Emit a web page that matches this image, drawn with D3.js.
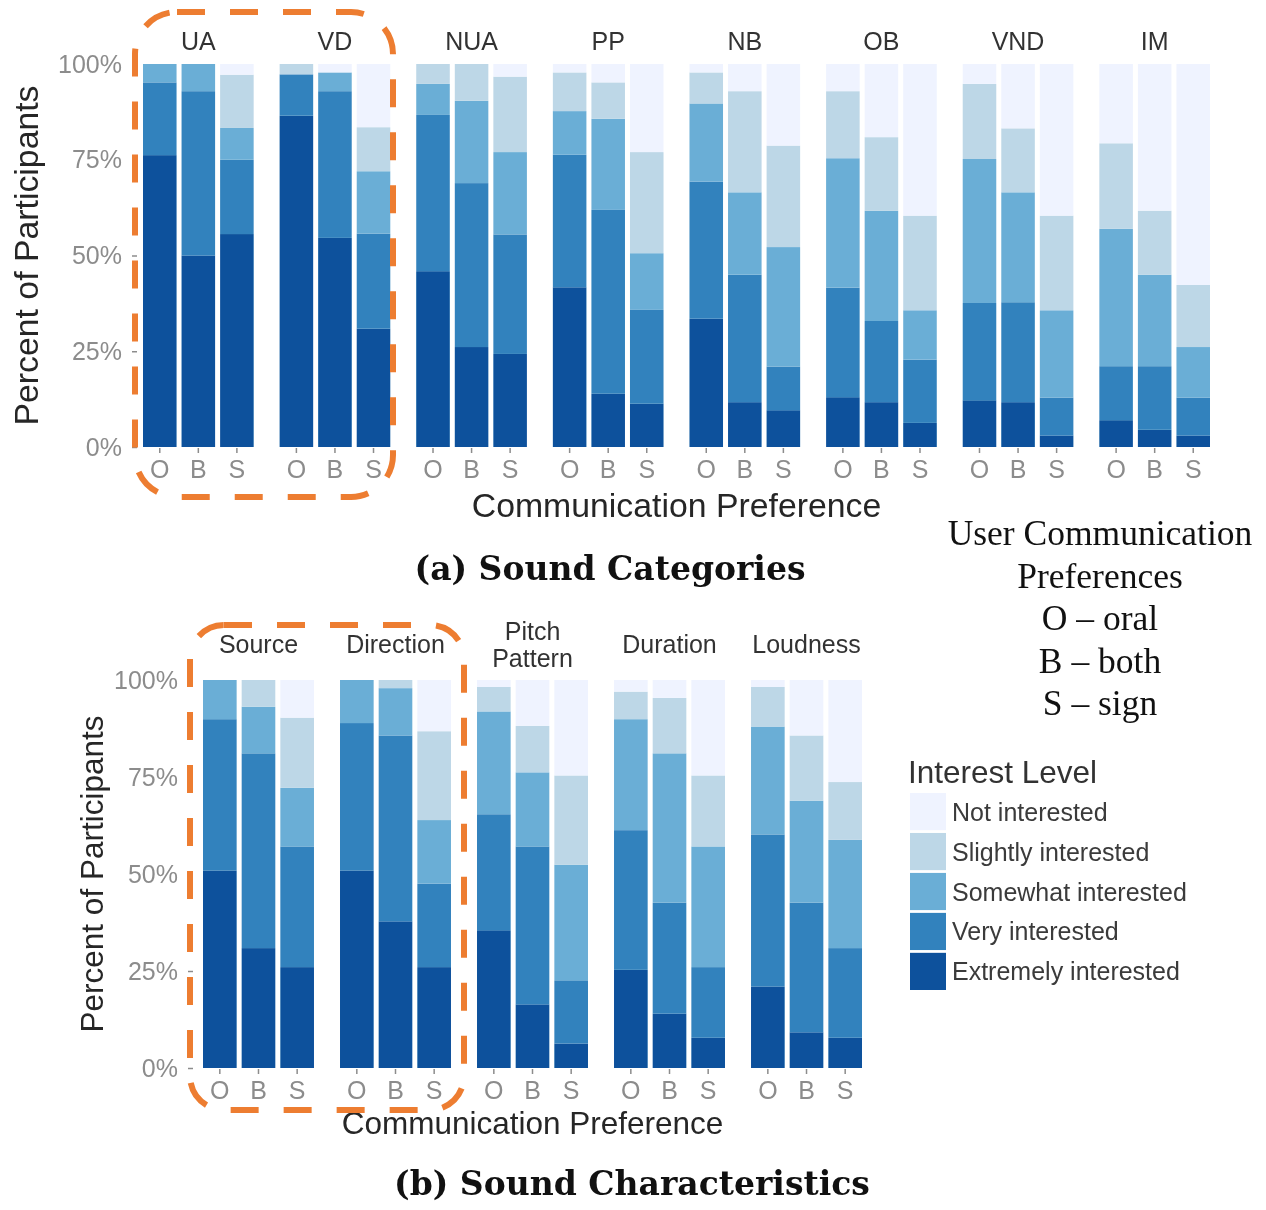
<!DOCTYPE html>
<html>
<head>
<meta charset="utf-8">
<script src="https://cdn.jsdelivr.net/npm/d3@7"></script>
<style>
  html, body { margin: 0; padding: 0; background: #fff; }
  svg { display: block; }
</style>
</head>
<body>
<svg id="fig" width="1266" height="1210"></svg>
<script>
// Interest levels, stacked from the bottom of each bar upwards
const levels = ["Extremely interested", "Very interested", "Somewhat interested", "Slightly interested", "Not interested"];
const levelColors = ["#08519c", "#3182bd", "#6baed6", "#bdd7e7", "#eff3ff"];
const prefs = ["O", "B", "S"];
const yTicks = [0, 25, 50, 75, 100];

// (a) sound categories — one value per panel × preference (O, B, S)
const categoryPanels = ["UA", "VD", "NUA", "PP", "NB", "OB", "VND", "IM"];
const catExtremely = [76.2, 50.0, 55.6, 86.5, 54.6, 30.9, 45.9, 26.1, 24.3, 41.7, 13.9, 11.3, 33.5, 11.7, 9.6, 13.0, 11.7, 6.3, 12.2, 11.7, 3.0, 7.0, 4.5, 3.0];
const catVery      = [19.0, 42.9, 19.4, 10.8, 38.3, 24.8, 40.8, 42.8, 31.2, 34.6, 48.0, 24.5, 35.8, 33.3, 11.4, 28.6, 21.2, 16.5, 25.4, 26.1, 9.9, 14.1, 16.6, 9.9];
const catSomewhat  = [4.8, 7.1, 8.3, 0, 4.9, 16.3, 8.1, 21.5, 21.5, 11.4, 23.8, 14.8, 20.4, 21.5, 31.2, 33.8, 28.8, 12.9, 37.6, 28.7, 22.8, 35.9, 23.9, 13.2];
const catSlightly  = [0, 0, 13.9, 2.7, 0, 11.5, 5.2, 9.6, 19.7, 10.1, 9.5, 26.4, 8.1, 26.4, 26.5, 17.5, 19.2, 24.7, 19.6, 16.7, 24.7, 22.3, 16.7, 16.2];
const catNot       = [0, 0, 2.8, 0, 2.2, 16.5, 0, 0, 3.3, 2.2, 4.8, 23.0, 2.2, 7.1, 21.3, 7.1, 19.1, 39.6, 5.2, 16.8, 39.6, 20.7, 38.3, 57.7];

// (b) sound characteristics
const charPanels = ["Source", "Direction", "Pitch Pattern", "Duration", "Loudness"];
const charExtremely = [50.9, 30.9, 26.0, 50.9, 37.8, 26.0, 35.5, 16.4, 6.3, 25.3, 14.0, 7.8, 21.0, 9.2, 7.8];
const charVery      = [39.0, 50.2, 31.1, 38.0, 47.9, 21.5, 29.9, 40.7, 16.3, 36.0, 28.6, 18.2, 39.2, 33.4, 23.1];
const charSomewhat  = [10.1, 12.0, 15.1, 11.1, 12.2, 16.4, 26.5, 19.1, 29.8, 28.6, 38.5, 31.1, 27.8, 26.3, 27.9];
const charSlightly  = [0, 6.9, 18.1, 0, 2.1, 22.9, 6.3, 12.0, 23.0, 7.1, 14.3, 18.3, 10.2, 16.8, 14.9];
const charNot       = [0, 0, 9.7, 0, 0, 13.2, 1.8, 11.8, 24.6, 3.0, 4.6, 24.6, 1.8, 14.3, 26.3];

// Caption text
const legendTitle = "Interest Level";
const prefNote = ["User Communication", "Preferences", "O \u2013 oral", "B \u2013 both", "S \u2013 sign"];

function buildRows(panels, series) {
  const rows = [];
  panels.forEach((p, i) => {
    prefs.forEach((c, j) => {
      const k = i * prefs.length + j;
      const row = { panel: p, pref: c };
      levels.forEach((lv, li) => { row[lv] = series[li][k]; });
      rows.push(row);
    });
  });
  return rows;
}

const catRows = buildRows(categoryPanels, [catExtremely, catVery, catSomewhat, catSlightly, catNot]);
const charRows = buildRows(charPanels, [charExtremely, charVery, charSomewhat, charSlightly, charNot]);

const svg = d3.select("#fig");
const defs = svg.append("defs");
defs.append("filter").attr("id", "soft")
  .attr("x", "-5%").attr("y", "-5%").attr("width", "110%").attr("height", "110%")
  .append("feGaussianBlur").attr("stdDeviation", 0.6);

const color = d3.scaleOrdinal(levels, levelColors);
const sans = "'Liberation Sans', Arial, sans-serif";
const tickGrey = "#8c8c8c";

function drawFacets(cfg) {
  const g = svg.append("g").attr("filter", "url(#soft)");
  const y = d3.scaleLinear([0, 100], [cfg.y0, cfg.y1]);
  const outer = d3.scaleBand(cfg.panels, [cfg.x0, cfg.x1]).paddingInner(0.19).paddingOuter(0);
  const inner = d3.scaleBand(prefs, [0, outer.bandwidth()]).paddingInner(0.13).paddingOuter(0);
  const stack = d3.stack().keys(levels)(cfg.rows);

  // stacked bars
  g.append("g").selectAll("g").data(stack).join("g")
    .attr("fill", d => color(d.key))
    .selectAll("rect").data(d => d).join("rect")
      .attr("x", d => outer(d.data.panel) + inner(d.data.pref))
      .attr("width", inner.bandwidth())
      .attr("y", d => y(d[1]))
      .attr("height", d => Math.max(0, y(d[0]) - y(d[1])));

  // y axis
  const yAxis = g.append("g")
    .attr("transform", `translate(${cfg.axisX},0)`)
    .call(d3.axisLeft(y).tickValues(yTicks).tickFormat(d => d + "%").tickSize(5).tickPadding(10));
  yAxis.select(".domain").remove();
  yAxis.selectAll("line").attr("stroke", tickGrey).attr("stroke-width", 1.5);
  yAxis.selectAll("text").attr("fill", tickGrey).style("font-family", sans).style("font-size", "25px");

  // x axis under each panel
  cfg.panels.forEach(p => {
    const ax = g.append("g")
      .attr("transform", `translate(${outer(p)},${cfg.y0 + 1})`)
      .call(d3.axisBottom(inner).tickSize(5).tickPadding(7));
    ax.select(".domain").remove();
    ax.selectAll("line").attr("stroke", tickGrey).attr("stroke-width", 1.5);
    ax.selectAll("text").attr("fill", tickGrey).style("font-family", sans).style("font-size", "25px");
  });

  // facet strip labels
  g.append("g").selectAll("text").data(cfg.panels).join("text")
    .attr("x", p => outer(p) + outer.bandwidth() / 2)
    .attr("y", p => cfg.stripY - (p.split(" ").length - 1) * 13.5)
    .attr("text-anchor", "middle")
    .attr("fill", "#333")
    .style("font-family", sans).style("font-size", "25px")
    .selectAll("tspan").data(p => p.split(" ")).join("tspan")
      .attr("x", function () { return d3.select(this.parentNode).attr("x"); })
      .attr("dy", (d, i) => i === 0 ? 0 : 27)
      .text(d => d);

  // axis titles
  g.append("text")
    .attr("x", (cfg.x0 + cfg.x1) / 2).attr("y", cfg.xTitleY)
    .attr("text-anchor", "middle").attr("fill", "#262626")
    .style("font-family", sans).style("font-size", cfg.titleSize + "px")
    .text("Communication Preference");
  g.append("text")
    .attr("transform", `translate(${cfg.yTitleX},${(cfg.y0 + cfg.y1) / 2}) rotate(-90)`)
    .attr("text-anchor", "middle").attr("fill", "#262626")
    .style("font-family", sans).style("font-size", cfg.titleSize + "px")
    .text("Percent of Participants");
}

drawFacets({
  panels: categoryPanels, rows: catRows,
  x0: 143, x1: 1210, y0: 447, y1: 64, axisX: 137,
  stripY: 50, xTitleY: 517, yTitleX: 38, titleSize: 33.8
});

drawFacets({
  panels: charPanels, rows: charRows,
  x0: 203, x1: 862, y0: 1068, y1: 680, axisX: 193,
  stripY: 653, xTitleY: 1134, yTitleX: 103, titleSize: 31.5
});

// legend
const lg = svg.append("g").attr("filter", "url(#soft)");
lg.append("text").attr("x", 908).attr("y", 783)
  .attr("fill", "#333").style("font-family", sans).style("font-size", "31.5px")
  .text(legendTitle);
const legendOrder = levels.slice().reverse();
const ly = d3.scaleBand(legendOrder, [793, 990]).paddingInner(0.07);
lg.selectAll("rect").data(legendOrder).join("rect")
  .attr("x", 910).attr("width", 36)
  .attr("y", d => ly(d)).attr("height", ly.bandwidth())
  .attr("fill", d => color(d));
lg.selectAll("text.item").data(legendOrder).join("text")
  .attr("class", "item")
  .attr("x", 952).attr("y", d => ly(d) + ly.bandwidth() / 2 + 9)
  .attr("fill", "#3a3a3a").style("font-family", sans).style("font-size", "25px")
  .text(d => d);

// preference key
svg.append("g").selectAll("text").data(prefNote).join("text")
  .attr("x", 1100).attr("y", (d, i) => 545 + i * 42.6)
  .attr("text-anchor", "middle").attr("fill", "#111")
  .style("font-family", "'Liberation Serif', 'Times New Roman', serif").style("font-size", "35.5px")
  .text(d => d);

// sub-figure captions
const serifBold = "'DejaVu Serif', serif";
svg.append("text").attr("x", 610).attr("y", 580).attr("text-anchor", "middle")
  .attr("fill", "#111").style("font-family", serifBold).style("font-weight", "bold").style("font-size", "33px")
  .text("(a) Sound Categories");
svg.append("text").attr("x", 632).attr("y", 1195).attr("text-anchor", "middle")
  .attr("fill", "#111").style("font-family", serifBold).style("font-weight", "bold").style("font-size", "33px")
  .text("(b) Sound Characteristics");

// dashed highlight around the first two panels of each figure
const hl = svg.append("g").attr("fill", "none").attr("stroke", "#ed7d31")
  .attr("stroke-width", 6).attr("stroke-dasharray", "28 25");
hl.append("rect").attr("x", 135).attr("y", 12).attr("width", 258).attr("height", 485).attr("rx", 42);
hl.append("rect").attr("x", 190).attr("y", 625).attr("width", 274).attr("height", 485).attr("rx", 34);
</script>
</body>
</html>
